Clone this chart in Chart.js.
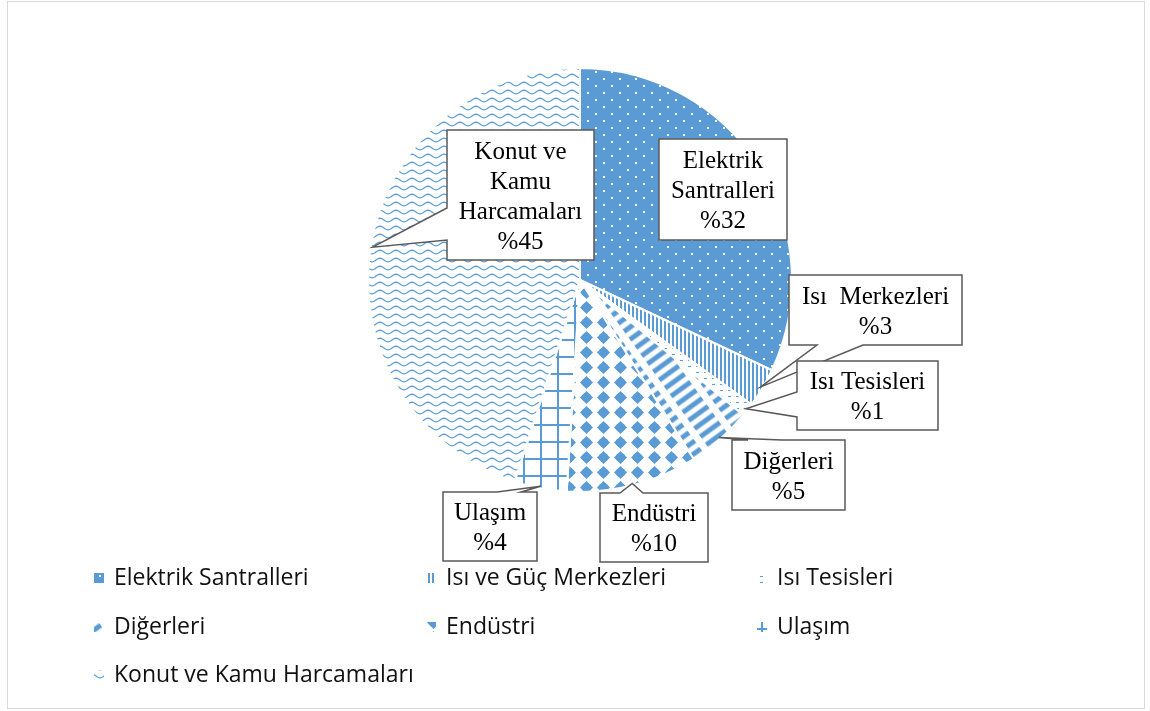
<!DOCTYPE html>
<html>
<head>
<meta charset="utf-8">
<script src="https://cdn.jsdelivr.net/npm/chart.js@4.4.1/dist/chart.umd.min.js"></script>
<style>
  html, body { margin: 0; padding: 0; background: #fff; }
  canvas { display: block; }
</style>
</head>
<body>
<canvas id="pieChart" width="1150" height="711"></canvas>
<script>
// Data
const categories = ['Elektrik Santralleri', 'Isı ve Güç Merkezleri', 'Isı Tesisleri', 'Diğerleri', 'Endüstri', 'Ulaşım', 'Konut ve Kamu Harcamaları'];
const shares = [32, 3, 1, 5, 10, 4, 45];
const calloutNames = [['Elektrik', 'Santralleri'], ['Isı  Merkezleri'], ['Isı Tesisleri'], ['Diğerleri'], ['Endüstri'], ['Ulaşım'], ['Konut ve', 'Kamu', 'Harcamaları']];

const BLUE = '#5b9bd5';

// Build a small tile canvas and turn it into a repeating pattern
function makeTile(w, h, draw) {
    const c = document.createElement('canvas');
    c.width = w;
    c.height = h;
    const g = c.getContext('2d');
    draw(g, w, h);
    return c;
}

function makePattern(ctx, tile, matrix) {
    const p = ctx.createPattern(tile, 'repeat');
    if (matrix) p.setTransform(matrix);
    return p;
}

function buildFills(ctx) {
    // white dots on blue
    const dots = makeTile(16, 14, (g, w, h) => {
        g.fillStyle = BLUE; g.fillRect(0, 0, w, h);
        g.fillStyle = '#fff';
        g.fillRect(3, 1, 2, 2);
        g.fillRect(11, 8, 2, 2);
    });
    // narrow vertical lines
    const vlines = makeTile(4, 4, (g, w, h) => {
        g.fillStyle = '#fff'; g.fillRect(0, 0, w, h);
        g.fillStyle = BLUE; g.fillRect(0, 0, 2, h);
    });
    // sparse small bricks
    const bricks = makeTile(8, 6, (g, w, h) => {
        g.fillStyle = '#fff'; g.fillRect(0, 0, w, h);
        g.fillStyle = BLUE; g.fillRect(0, 0, 3, 1);
    });
    // wide dashed diagonal
    const dashes = makeTile(31, 10, (g, w, h) => {
        g.fillStyle = '#fff'; g.fillRect(0, 0, w, h);
        g.fillStyle = BLUE; g.fillRect(0, 2.5, 24, 5);
    });
    // rounded diamonds
    const diamonds = makeTile(17, 15, (g, w, h) => {
        g.fillStyle = '#fff'; g.fillRect(0, 0, w, h);
        g.fillStyle = BLUE;
        g.beginPath();
        g.moveTo(8.5, 1);
        g.lineTo(15, 7.5);
        g.lineTo(8.5, 14);
        g.lineTo(2, 7.5);
        g.closePath();
        g.fill();
        g.beginPath();
        g.arc(8.5, 7.5, 4.6, 0, Math.PI * 2);
        g.fill();
    });
    // grid
    const grid = makeTile(17, 17, (g, w, h) => {
        g.fillStyle = '#fff'; g.fillRect(0, 0, w, h);
        g.fillStyle = BLUE;
        g.fillRect(0, 0, w, 2);
        g.fillRect(0, 0, 2, h);
    });
    // waves
    const waves = makeTile(16, 8, (g, w, h) => {
        g.fillStyle = '#fff'; g.fillRect(0, 0, w, h);
        g.strokeStyle = BLUE;
        g.lineWidth = 1.3;
        g.beginPath();
        for (let x = -1; x <= w + 1; x++) {
            const y = 4 + 1.8 * Math.sin(2 * Math.PI * x / w);
            if (x === -1) g.moveTo(x, y); else g.lineTo(x, y);
        }
        g.stroke();
    });

    return [
        makePattern(ctx, dots),
        makePattern(ctx, vlines),
        makePattern(ctx, bricks),
        makePattern(ctx, dashes, new DOMMatrix().rotate(-36)),
        makePattern(ctx, diamonds),
        makePattern(ctx, grid, new DOMMatrix().translate(13, 16)),
        makePattern(ctx, waves)
    ];
}

// Callout boxes: [x1, y1, x2, y2], side of the pointer, pointer base along that side
const calloutBoxes = [
    { box: [659, 139, 787, 240], side: null },
    { box: [789, 275, 962, 345], side: 'bottom', base: [817, 863] },
    { box: [797, 361, 938, 430], side: 'left', base: [392, 417] },
    { box: [732, 440, 845, 510], side: 'top', base: [748, 782] },
    { box: [600, 493, 708, 562], side: 'top', base: [620, 643] },
    { box: [443, 492, 537, 561], side: 'top', base: [497, 521] },
    { box: [447, 130, 594, 260], side: 'left', base: [208, 240] }
];

function calloutPath(g, cfg, tip) {
    const [x1, y1, x2, y2] = cfg.box;
    const b = cfg.base;
    g.beginPath();
    g.moveTo(x1, y1);
    if (cfg.side === 'top') { g.lineTo(b[0], y1); g.lineTo(tip.x, tip.y); g.lineTo(b[1], y1); }
    g.lineTo(x2, y1);
    if (cfg.side === 'right') { g.lineTo(x2, b[0]); g.lineTo(tip.x, tip.y); g.lineTo(x2, b[1]); }
    g.lineTo(x2, y2);
    if (cfg.side === 'bottom') { g.lineTo(b[1], y2); g.lineTo(tip.x, tip.y); g.lineTo(b[0], y2); }
    g.lineTo(x1, y2);
    if (cfg.side === 'left') { g.lineTo(x1, b[1]); g.lineTo(tip.x, tip.y); g.lineTo(x1, b[0]); }
    g.closePath();
}

const backgroundPlugin = {
    id: 'background',
    beforeDraw(chart) {
        const g = chart.ctx;
        g.save();
        g.fillStyle = '#fff';
        g.fillRect(0, 0, chart.width, chart.height);
        g.restore();
    }
};

const calloutPlugin = {
    id: 'callouts',
    afterDatasetsDraw(chart) {
        const g = chart.ctx;
        const meta = chart.getDatasetMeta(0);
        g.save();
        meta.data.forEach((arc, i) => {
            const cfg = calloutBoxes[i];
            const mid = (arc.startAngle + arc.endAngle) / 2;
            const r = arc.outerRadius - 2;
            const tip = { x: arc.x + Math.cos(mid) * r, y: arc.y + Math.sin(mid) * r };

            calloutPath(g, cfg, tip);
            g.fillStyle = '#fff';
            g.fill();
            g.strokeStyle = '#595959';
            g.lineWidth = 1.5;
            g.stroke();

            const lines = calloutNames[i].concat('%' + shares[i]);
            const [x1, y1, x2, y2] = cfg.box;
            const cx = (x1 + x2) / 2;
            const cy = (y1 + y2) / 2 + 2;
            g.fillStyle = '#000';
            g.font = '25px "Liberation Serif", "Times New Roman", serif';
            g.textAlign = 'center';
            g.textBaseline = 'middle';
            lines.forEach((t, k) => {
                g.fillText(t, cx, cy + (k - (lines.length - 1) / 2) * 30);
            });
        });
        g.restore();
    }
};

// Legend in a 3-column grid below the pie
const legendCols = [94, 426, 757];
const legendRows = [578, 627, 675];

const legendPlugin = {
    id: 'gridLegend',
    afterDraw(chart) {
        const g = chart.ctx;
        const fills = chart.data.datasets[0].backgroundColor;
        g.save();
        g.font = '23px "Open Sans", sans-serif';
        g.textAlign = 'left';
        g.textBaseline = 'middle';
        chart.data.labels.forEach((label, i) => {
            const x = legendCols[i % 3];
            const y = legendRows[Math.floor(i / 3)];
            g.fillStyle = fills[i];
            g.fillRect(x, y - 5, 10, 10);
            g.fillStyle = '#111';
            g.fillText(label, x + 20, y);
        });
        // outer chart frame
        g.strokeStyle = '#d9d9d9';
        g.lineWidth = 1;
        g.strokeRect(7.5, 1.5, 1137, 707);
        g.restore();
    }
};

const ctx = document.getElementById('pieChart').getContext('2d');
const fills = buildFills(ctx);

new Chart(ctx, {
    type: 'pie',
    data: {
        labels: categories,
        datasets: [{
            data: shares,
            backgroundColor: fills,
            borderColor: '#fff',
            borderWidth: 2
        }]
    },
    options: {
        responsive: false,
        maintainAspectRatio: false,
        devicePixelRatio: 1,
        animation: false,
        events: [],
        layout: { padding: { left: 367, right: 357, top: 67, bottom: 218 } },
        plugins: {
            legend: { display: false },
            tooltip: { enabled: false }
        }
    },
    plugins: [backgroundPlugin, calloutPlugin, legendPlugin]
});
</script>
</body>
</html>
